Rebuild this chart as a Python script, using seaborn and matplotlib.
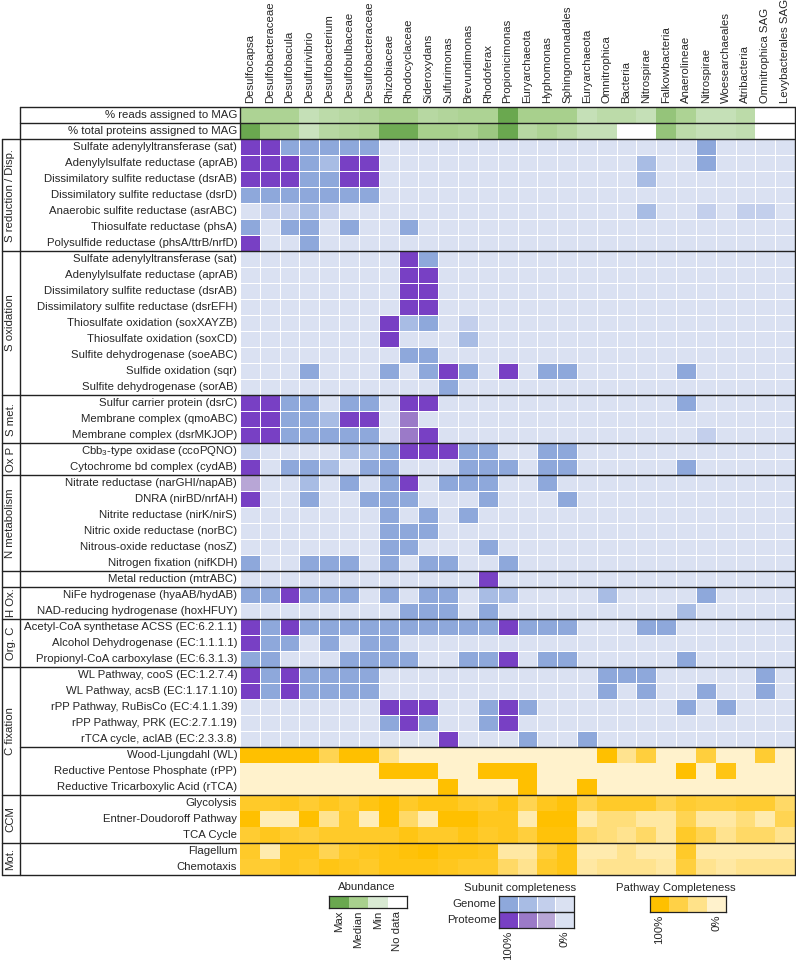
import numpy as np
import matplotlib
matplotlib.use('Agg')
import matplotlib.pyplot as plt
from matplotlib.colors import ListedColormap, LinearSegmentedColormap
import seaborn as sns

sns.set_style('white')
plt.rcParams['font.family'] = ['Liberation Sans', 'DejaVu Sans']
plt.rcParams['mathtext.fontset'] = 'custom'
plt.rcParams['mathtext.rm'] = 'Liberation Sans'

W, H = 796, 960
FS = 8.2

# ── data ─────────────────────────────────────────────
taxa = ['Desulfocapsa', 'Desulfobacteraceae', 'Desulfobacula', 'Desulfurivibrio',
        'Desulfobacterium', 'Desulfobulbaceae', 'Desulfobacteraceae', 'Rhizobiaceae',
        'Rhodocyclaceae', 'Sideroxydans', 'Sulfurimonas', 'Brevundimonas', 'Rhodoferax',
        'Propionicimonas', 'Euryarchaeota', 'Hyphomonas', 'Sphingomonadales',
        'Euryarchaeota', 'Omnitrophica', 'Bacteria', 'Nitrospirae', 'Falkowbacteria',
        'Anaerolineae', 'Nitrospirae', 'Woesearchaeales', 'Atribacteria',
        'Omnitrophica SAG', 'Levybacterales SAG']

nan = np.nan
# abundance, 0 = min, 0.5 = median, 1 = max, nan = no data
reads_mag = [0.45, 0.45, 0.45, 0.2, 0.3, 0.35, 0.4, 0.5, 0.5, 0.35, 0.4, 0.45, 0.45, 1.0,
             0.5, 0.5, 0.5, 0.2, 0.3, 0.3, 0.2, 0.65, 0.45, 0.2, 0.2, 0.3, nan, nan]
proteins_mag = [1.0, 0.5, 0.45, 0.15, 0.35, 0.4, 0.45, 0.95, 0.95, 0.5, 0.5, 0.45, 0.6, 1.0,
                0.35, 0.45, 0.35, 0.2, 0.2, nan, nan, 0.65, 0.3, 0.2, 0.2, 0.25, nan, nan]
header_labels = ['% reads assigned to MAG', '% total proteins assigned to MAG']

# subunit completeness codes: '.' 0%, d/c/b genome 33/66/100%, r/q/P proteome 33/66/100%
gene_labels = [
    'Sulfate adenylyltransferase (sat)', 'Adenylylsulfate reductase (aprAB)',
    'Dissimilatory sulfite reductase (dsrAB)', 'Dissimilatory sulfite reductase (dsrD)',
    'Anaerobic sulfite reductase (asrABC)', 'Thiosulfate reductase (phsA)',
    'Polysulfide reductase (phsA/ttrB/nrfD)',
    'Sulfate adenylyltransferase (sat)', 'Adenylylsulfate reductase (aprAB)',
    'Dissimilatory sulfite reductase (dsrAB)', 'Dissimilatory sulfite reductase (dsrEFH)',
    'Thiosulfate oxidation (soxXAYZB)', 'Thiosulfate oxidation (soxCD)',
    'Sulfite dehydrogenase (soeABC)', 'Sulfide oxidation (sqr)', 'Sulfite dehydrogenase (sorAB)',
    'Sulfur carrier protein (dsrC)', 'Membrane complex (qmoABC)', 'Membrane complex (dsrMKJOP)',
    'Cbb$_3$-type oxidase (ccoPQNO)', 'Cytochrome bd complex (cydAB)',
    'Nitrate reductase (narGHI/napAB)', 'DNRA (nirBD/nrfAH)', 'Nitrite reductase (nirK/nirS)',
    'Nitric oxide reductase (norBC)', 'Nitrous-oxide reductase (nosZ)',
    'Nitrogen fixation (nifKDH)',
    'Metal reduction (mtrABC)',
    'NiFe hydrogenase (hyaAB/hydAB)', 'NAD-reducing hydrogenase (hoxHFUY)',
    'Acetyl-CoA synthetase ACSS (EC:6.2.1.1)', 'Alcohol Dehydrogenase (EC:1.1.1.1)',
    'Propionyl-CoA carboxylase (EC:6.3.1.3)',
    'WL Pathway, cooS (EC:1.2.7.4)', 'WL Pathway, acsB (EC:1.17.1.10)',
    'rPP Pathway, RuBisCo (EC:4.1.1.39)', 'rPP Pathway, PRK (EC:2.7.1.19)',
    'rTCA cycle, aclAB (EC:2.3.3.8)']
gene_codes = [
    'PPbbbbb|.......|.......|..b....',
    'PPPbcPP|.......|......c|..b....',
    'PPPbbPP|.......|......c|.......',
    'bbbbbbb|.......|.......|.......',
    '.ddcd..|.......|......c|..d.dd.',
    'b.bb.b.|.b.....|.......|.......',
    'P..b...|.......|.......|.......',
    '.......|.Pb....|.......|.......',
    '.......|.PP....|.......|.......',
    '.......|.PP....|.......|.......',
    '.......|.PP....|.......|.......',
    '.......|Pcb.d..|.......|.......',
    '.......|P...c..|.......|.......',
    '.......|.bb....|.......|.......',
    '...b...|b.bPb.P|.bb....|.b.....',
    '.......|...b...|.......|.......',
    'PPbb.bb|.PP....|.......|.b.....',
    'PPbbcPP|.q.....|.......|.......',
    'PPbbbbb|.qP....|.......|..d....',
    'd....cc|bPPPbb.|.bb....|.......',
    'P.bbc.b|b...bbb|.bb....|.b.....',
    'r..c.b.|bP.bbb.|.b.....|.......',
    'P..b..b|bb...b.|..b....|.......',
    '.......|b.b.b..|.......|.......',
    '.......|bbb....|.......|.......',
    '.......|bb...b.|.......|.......',
    'b..bbb.|b.bb..b|.......|.......',
    '.......|.....P.|.......|.......',
    'bbPbbb.|b.bb.cc|....c..|..b....',
    '.......|.bbb.b.|.......|.c.....',
    'PbPbbbb|bbbbbbP|bbb...b|b......',
    'Pbb.b.b|b......|.......|.......',
    'bb...bb|bb..bbP|.bb....|.b.....',
    'PbPbbbb|.......|....bbb|.....b.',
    'PbPbbbb|.......|....b.b|..b..b.',
    '.......|PPP..bP|b......|.b.b...',
    '.......|bPb..bP|.......|.......',
    '.......|...P...|b..b...|.......']

# pathway completeness, 0 - 1
path_labels = ['Wood-Ljungdahl (WL)', 'Reductive Pentose Phosphate (rPP)',
               'Reductive Tricarboxylic Acid (rTCA)', 'Glycolysis', 'Entner-Doudoroff Pathway',
               'TCA Cycle', 'Flagellum', 'Chemotaxis']
wl = [1, 1, 1, 1, 0.6, 1, 1, 0.3, 0, 0, 0, 0, 0, 0,
      0, 0, 0, 0, 1, 0.3, 0.7, 0, 0, 0.7, 0, 0, 0.75, 0]
rpp = [0, 0, 0, 0, 0, 0, 0, 1, 1, 1, 0, 0, 1, 1,
       1, 0, 0, 0, 0, 0, 0, 0, 1, 0, 0.9, 0, 0, 0]
rtca = [0, 0, 0, 0, 0, 0, 0, 0, 0, 0, 1, 0, 0, 0,
        1, 0, 0, 1, 0, 0, 0, 0, 0, 0, 0, 0, 0, 0]
glycolysis = [0.8, 0.8, 0.85, 0.75, 0.85, 0.75, 0.9, 1, 0.8, 0.9, 0.9, 0.8, 0.75, 0.9,
              0.6, 0.85, 0.95, 0.6, 0.8, 0.8, 0.8, 0.6, 0.75, 0.7, 0.7, 0.75, 0.75, 0.5]
entner = [1, 0.1, 0.1, 1, 0.3, 0.8, 0.1, 1, 0.5, 0.1, 1, 1, 0.85, 0.85,
          0.15, 1, 1, 0.15, 0.4, 0.4, 0.2, 0.2, 0.6, 0.2, 0.2, 0.4, 0.15, 0.6]
tca = [0.75, 0.85, 0.75, 0.7, 0.8, 0.8, 0.8, 0.8, 0.9, 0.8, 0.8, 0.9, 0.8, 0.85,
       0.7, 0.95, 0.95, 0.5, 0.4, 0.3, 0.5, 0.2, 0.8, 0.6, 0.3, 0.5, 0.5, 0.3]
flagellum = [0.8, 0.15, 0.85, 0.85, 0.6, 0.8, 0.85, 0.9, 0.95, 1, 0.9, 0.9, 0.85, 0.2,
             0.2, 0.7, 0.9, 0.15, 0.15, 0.3, 0.15, 0.15, 0.8, 0.15, 0.15, 0.15, 0.15, 0.15]
chemotaxis = [0.75, 0.75, 0.85, 0.8, 0.9, 0.85, 0.8, 0.9, 0.9, 0.9, 0.85, 0.8, 0.8, 0.5,
              0.3, 0.8, 0.9, 0.2, 0.3, 0.3, 0.3, 0.2, 0.7, 0.3, 0.2, 0.3, 0.3, 0.3]

# group name, first row, end row (rows counted from top incl. 2 header rows)
groups = [('S reduction / Disp.', 2, 9), ('S oxidation', 9, 18), ('S met.', 18, 21),
          ('Ox P', 21, 23), ('N metabolism', 23, 29), ('', 29, 30), ('H Ox.', 30, 32),
          ('Org. C', 32, 35), ('C fixation', 35, 43), ('CCM', 43, 46), ('Mot.', 46, 48)]

# ── colours ──────────────────────────────────────────
code_idx = {'.': 0, 'd': 1, 'c': 2, 'b': 3, 'r': 4, 'q': 5, 'P': 6}
sub_colors = ['#dae1f2', '#c3cfec', '#a8bce4', '#8ea8db', '#b8a6d6', '#9b7ac8', '#7840c4']
sub_cmap = ListedColormap(sub_colors)
green_cmap = LinearSegmentedColormap.from_list('ab', ['#d9ead3', '#a8d08d', '#6aa84f'])
yellow_cmap = LinearSegmentedColormap.from_list('pc', ['#fff2cc', '#ffc000'])

head_mat = np.array([reads_mag, proteins_mag], float)
gene_mat = np.array([[code_idx[c] for c in s.replace('|', '')] for s in gene_codes], float)
path_mat = np.array([wl, rpp, rtca, glycolysis, entner, tca, flagellum, chemotaxis], float)
nrow = len(head_mat) + len(gene_mat) + len(path_mat)
ncol = len(taxa)

fig = plt.figure(figsize=(W / 100, H / 100), dpi=100)
gx0, gx1, gy0, gy1 = 240, 795, 107, 875
rh = (gy1 - gy0) / nrow


def block_ax(r0, r1):
    top = gy0 + r0 * rh
    bot = gy0 + r1 * rh
    return fig.add_axes([gx0 / W, 1 - bot / H, (gx1 - gx0) / W, (bot - top) / H])


r_head = len(head_mat)
r_gene = r_head + len(gene_mat)
ax_h = block_ax(0, r_head)
ax_g = block_ax(r_head, r_gene)
ax_p = block_ax(r_gene, nrow)

sns.heatmap(head_mat, cmap=green_cmap, vmin=0, vmax=1, cbar=False, ax=ax_h,
            xticklabels=taxa, yticklabels=header_labels)
sns.heatmap(gene_mat, cmap=sub_cmap, vmin=-0.5, vmax=6.5, cbar=False,
            linewidths=0.6, linecolor='white', ax=ax_g,
            xticklabels=False, yticklabels=gene_labels)
sns.heatmap(path_mat, cmap=yellow_cmap, vmin=0, vmax=1, cbar=False, ax=ax_p,
            xticklabels=False, yticklabels=path_labels)

ax_h.xaxis.tick_top()
plt.setp(ax_h.get_xticklabels(), rotation=90, fontsize=FS)
ax_h.tick_params(axis='x', pad=3)
for a in (ax_h, ax_g, ax_p):
    plt.setp(a.get_yticklabels(), rotation=0, fontsize=FS)
    a.tick_params(length=0)
    a.tick_params(axis='y', pad=2)

# ── frame / group lines (pixel overlay) ─────────────
ov = fig.add_axes([0, 0, 1, 1], facecolor='none')
ov.set_xlim(0, W)
ov.set_ylim(H, 0)
ov.axis('off')
lk = dict(color='#222222', lw=1.0)
ov.plot([20, gx1], [gy0, gy0], **lk)
ov.plot([20, gx1], [gy0 + rh, gy0 + rh], **lk)
for _, r0, r1 in groups:
    ov.plot([1.5, gx1], [gy0 + r0 * rh] * 2, **lk)
ov.plot([1.5, gx1], [gy1, gy1], **lk)
ov.plot([20, gx1], [gy0 + r_gene * rh] * 2, **lk)
ov.plot([1.5, 1.5], [gy0 + 2 * rh, gy1], **lk)
ov.plot([20, 20], [gy0, gy1], **lk)
ov.plot([gx0, gx0], [gy0, gy0 + 2 * rh], **lk)
ov.plot([gx1, gx1], [gy0, gy1], **lk)
for name, r0, r1 in groups:
    ov.text(10.5, gy0 + (r0 + r1) / 2 * rh, name, rotation=90, ha='center', va='center',
            fontsize=FS)

# ── legends ──────────────────────────────────────────
ov.text(367, 887, 'Abundance', ha='center', va='center', fontsize=FS)
ov.text(520, 888, 'Subunit completeness', ha='center', va='center', fontsize=FS)
ov.text(676, 888, 'Pathway Completeness', ha='center', va='center', fontsize=FS)

lax = fig.add_axes([329 / W, 1 - 908 / H, 78 / W, 12 / H])
sns.heatmap(np.array([[1.0, 0.5, 0.0, nan]]), cmap=green_cmap, vmin=0, vmax=1, cbar=False,
            ax=lax, xticklabels=['Max', 'Median', 'Min', 'No data'], yticklabels=False)

sax = fig.add_axes([499 / W, 1 - 928 / H, 75 / W, 32 / H])
sns.heatmap(np.array([[3, 2, 1, 0], [6, 5, 4, 0]], float), cmap=sub_cmap, vmin=-0.5, vmax=6.5,
            cbar=False, linewidths=0.6, linecolor='white', ax=sax,
            xticklabels=['100%', '', '', '0%'], yticklabels=['Genome', 'Proteome'])
sax.axhline(1, color='#222222', lw=1.0)

pax = fig.add_axes([650 / W, 1 - 912 / H, 76 / W, 16 / H])
sns.heatmap(np.array([[1.0, 0.66, 0.33, 0.0]]), cmap=yellow_cmap, vmin=0, vmax=1, cbar=False,
            ax=pax, xticklabels=['100%', '', '', '0%'], yticklabels=False)

for a in (lax, sax, pax):
    for sp in a.spines.values():
        sp.set_visible(True)
        sp.set_linewidth(0.9)
        sp.set_color('#222222')
    a.tick_params(length=0, pad=2)
    plt.setp(a.get_xticklabels(), rotation=90, fontsize=FS)
    plt.setp(a.get_yticklabels(), rotation=0, fontsize=FS)

fig.savefig('out.png', dpi=100)
